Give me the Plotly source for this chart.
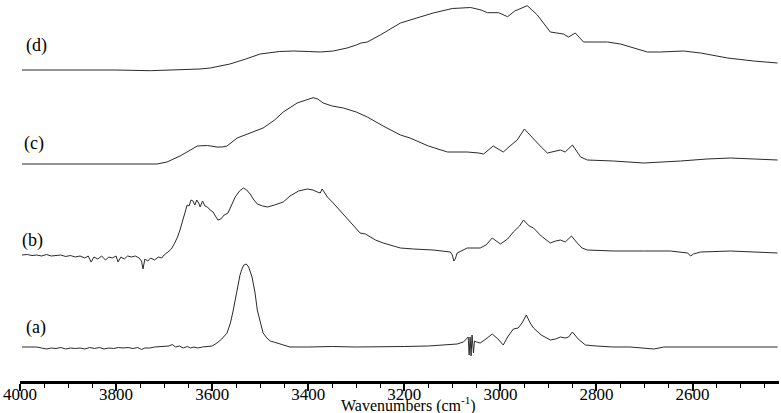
import plotly.graph_objects as go

# ---- data (wavenumber cm-1, relative intensity) ----
a_wn = [3996, 3985, 3975, 3965, 3955, 3944, 3935, 3925, 3915, 3905, 3895, 3885, 3875, 3865, 3855, 3845,
        3835, 3825, 3815, 3805, 3795, 3785, 3775, 3765, 3755, 3747, 3740, 3730, 3720, 3710, 3700, 3690,
        3683, 3676, 3668, 3660, 3652, 3645, 3638, 3630, 3620, 3610, 3600, 3590, 3580, 3569, 3562, 3556,
        3550, 3546, 3542, 3538, 3534, 3529, 3524, 3517, 3511, 3506, 3500, 3494, 3486, 3479, 3465, 3450,
        3438, 3400, 3350, 3300, 3250, 3200, 3150, 3110, 3090, 3077, 3070, 3067, 3065, 3063, 3061, 3059,
        3056, 3054, 3050, 3042, 3030, 3017, 3005, 2994, 2985, 2973, 2963, 2955, 2946, 2938, 2931, 2915,
        2896, 2885, 2875, 2865, 2858, 2850, 2838, 2823, 2800, 2765, 2730, 2694, 2680, 2660, 2600, 2550,
        2500, 2460, 2423]
a_val = [0, 0, -0.5, 0, -1, -2, -1, -1.5, -0.5, -2, -1, -1.5, -1, -2, -0.5, -1.5,
         -0.5, -2, -1, -1.5, -0.5, -1, -0.5, -1.5, -0.5, -2.5, -1, -1, 0, 0.5, 1, 1,
         2.5, 0, 1, -1, 0.5, -1, 0, -1, 0, 0.5, 1, 4, 8, 14, 24, 37,
         52, 64, 72, 78, 82, 83, 80, 70, 55, 37, 24, 14, 9, 6, 4, 2,
         0, 0, 0.5, 0, 0, 0.5, 1, 2, 3, 5, 8, 10, -8, 10, -9, 12,
         -6, 6, 5, 4, 8, 13, 8, 2, 10, 18, 19, 24, 32, 24, 19, 12,
         7, 8, 10, 9, 10, 15, 8, 2, 1, 0, 0, -1, -2, 0, 0, 0.5,
         0, 0.5, 0]

b_wn = [3996, 3985, 3975, 3965, 3955, 3945, 3935, 3925, 3915, 3905, 3895, 3885, 3875, 3865, 3858, 3852,
        3846, 3838, 3830, 3822, 3815, 3808, 3800, 3796, 3790, 3783, 3776, 3768, 3760, 3752, 3747, 3744,
        3740, 3734, 3728, 3720, 3712, 3705, 3700, 3692, 3685, 3678, 3672, 3667, 3662, 3657, 3652, 3648,
        3644, 3640, 3636, 3632, 3628, 3625, 3620, 3615, 3610, 3604, 3598, 3592, 3588, 3582,
        3575, 3567, 3560, 3552, 3543, 3535, 3528, 3521, 3513, 3506, 3495, 3485, 3470, 3452, 3438, 3420,
        3402, 3390, 3381, 3375, 3371, 3366, 3360, 3348, 3320, 3292, 3281, 3260, 3244, 3208, 3181, 3140,
        3104, 3100, 3097, 3094, 3090, 3069, 3042, 3030, 3017, 3008, 3000, 2985, 2973, 2960, 2952, 2940,
        2931, 2915, 2896, 2885, 2875, 2865, 2852, 2840, 2830, 2819, 2765, 2700, 2646, 2610, 2604, 2598,
        2583, 2521, 2470, 2423]
b_val = [0, 0.5, -0.5, 0, -1, 0.5, -1, -0.5, 0, -1.5, -0.5, -2, -1, -3, -1, -7,
         -2, -4, -1, -5, -2, -3, -1, -7, -2, -4, -1, -2, -1, -3, -6, -14,
         -4, -6, -3, -5, -2, -3, 0, 3, 6, 12, 18, 25, 33, 42, 50, 49,
         55, 54, 50, 55, 52, 48, 54, 49, 48, 45, 43, 38, 35, 36,
         40, 42, 50, 58, 64, 67, 65, 61, 55, 51, 49, 48, 50, 53, 59, 64,
         66, 65, 63, 62, 66, 62, 58, 52, 37, 22, 21, 15, 12, 7, 6, 5,
         3, 0, -6, -4, 2, 7, 7, 10, 17, 14, 11, 16, 23, 29, 35, 29,
         27, 19, 12, 14, 15, 13, 19, 12, 7, 5, 4, 4, 4, 2, -1, 1,
         3, 4, 3, 2]

c_wn = [3996, 3900, 3800, 3729, 3715, 3694, 3667, 3645, 3631, 3610, 3590, 3579, 3569, 3548, 3520, 3494,
        3470, 3452, 3423, 3405, 3390, 3380, 3369, 3350, 3327, 3300, 3277, 3244, 3208, 3188, 3150, 3110,
        3069, 3045, 3035, 3015, 2994, 2980, 2965, 2950, 2931, 2915, 2902, 2875, 2865, 2850, 2833, 2819,
        2765, 2702, 2625, 2570, 2521, 2470, 2423]
c_val = [0, 0, 0, 0, 0, 2, 8, 14, 18, 18.5, 17, 17, 18, 26, 31, 36,
         44, 52, 61, 64, 66.3, 65, 61, 58, 56, 52, 47, 38, 29, 26, 18, 12,
         12, 11, 10, 18, 12, 18, 24, 35, 25, 17, 11, 14, 12, 19, 7, 4,
         3, 1, 3, 5, 6, 5, 4]

d_wn = [3996, 3900, 3800, 3729, 3680, 3625, 3604, 3563, 3530, 3500, 3460, 3431, 3400, 3375, 3348, 3319,
        3300, 3290, 3277, 3250, 3208, 3181, 3140, 3100, 3062, 3040, 3027, 3004, 2985, 2970, 2958, 2944,
        2923, 2896, 2869, 2858, 2844, 2827, 2800, 2777, 2750, 2720, 2694, 2667, 2619, 2583, 2527, 2473,
        2423]
d_val = [0, 0.3, 0, -0.7, 0, 1, 2, 6, 11, 16, 18.5, 19, 18.5, 18, 19, 22,
         25, 27, 28, 35, 47, 51, 57, 61.5, 62.5, 60, 57.3, 57.3, 53.3, 59, 61.5, 64.3,
         55, 38, 36, 33, 37, 28, 28, 28, 26, 22, 18, 18, 19, 17, 12, 9,
         7]

labels = ["(a)", "(b)", "(c)", "(d)"]
offsets = [0, 92, 183, 277]
tick_vals = [4000, 3800, 3600, 3400, 3200, 3000, 2800, 2600]
x_title = "Wavenumbers (cm<sup>-1</sup>)"

series = [(a_wn, a_val), (b_wn, b_val), (c_wn, c_val), (d_wn, d_val)]

fig = go.Figure()
for (wn, val), off in zip(series, offsets):
    fig.add_trace(go.Scatter(x=wn, y=[v + off for v in val], mode="lines",
                             line=dict(color="#2a2a2a", width=1), showlegend=False,
                             hoverinfo="skip"))

label_pos = [(3967, 20), (3975, 107), (3971, 204), (3965, 302)]
for lab, (lx, ly) in zip(labels, label_pos):
    fig.add_annotation(x=lx, y=ly, text=lab, showarrow=False,
                       font=dict(family="Liberation Serif", size=18, color="black"))

fig.add_annotation(xref="paper", yref="paper", x=0.5125, y=0, yshift=-36, yanchor="bottom",
                   text=x_title, showarrow=False,
                   font=dict(family="Liberation Serif", size=16, color="black"))

fig.update_xaxes(range=[4000, 2420], tickvals=tick_vals, ticks="outside", ticklen=7,
                 tickwidth=1.5, tickcolor="black", showline=True, linewidth=2.5, linecolor="black",
                 showgrid=False, zeroline=False, automargin=False, ticklabelstandoff=-11,
                 tickfont=dict(family="Liberation Serif", size=17, color="black"),
                 minor=dict(dtick=50, tick0=4000, ticks="outside", ticklen=4, tickwidth=1,
                            tickcolor="black", showgrid=False))
fig.update_yaxes(visible=False, range=[-34, 347], automargin=False)

fig.update_layout(width=781, height=413, margin=dict(l=20, r=2, t=0, b=32, autoexpand=False),
                  plot_bgcolor="white", paper_bgcolor="white")

fig.write_html("out.html", config={"displayModeBar": False},
               post_script="document.body.style.margin='0';document.body.style.padding='0';")
